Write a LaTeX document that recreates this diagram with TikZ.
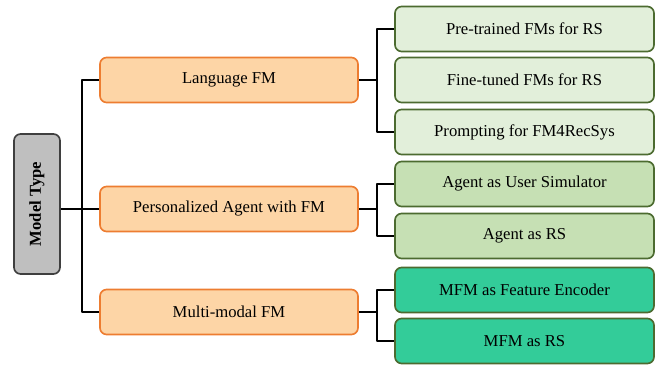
\documentclass[tikz,border=0pt]{standalone}
\usepackage{fontspec}
\setmainfont{Liberation Serif}
\definecolor{rootfill}{HTML}{BFBFBF}
\definecolor{rootline}{HTML}{3F3F3F}
\definecolor{catfill}{HTML}{FDD5A6}
\definecolor{catline}{HTML}{ED7D31}
\definecolor{leafline}{HTML}{4C6B30}
\definecolor{langfill}{HTML}{E2EFDA}
\definecolor{agentfill}{HTML}{C6E0B4}
\definecolor{mfmfill}{HTML}{33CC99}
\tikzset{
  box/.style={rounded corners=4pt, line width=1pt, align=center, inner sep=2pt},
  rootbox/.style={box, draw=rootline, fill=rootfill, rotate=90, minimum width=84pt, minimum height=27.6pt, font=\fontsize{10}{12}\selectfont\bfseries},
  catbox/.style={box, draw=catline, fill=catfill, minimum width=154.8pt, minimum height=27pt},
  leafbox/.style={box, draw=leafline, minimum width=155.4pt, minimum height=27pt},
  link/.style={line width=1.6pt}
}
\begin{document}
\begin{tikzpicture}[x=0.6pt, y=-0.6pt, line join=round, font=\fontsize{10}{12}\selectfont]
  \useasboundingbox (0,0) rectangle (659,367);
  \def\xcat{229} \def\xleaf{524.5} % column centres
  \coordinate (t0) at (82,0);
  \coordinate (t1) at (377,0);
  % root and categories
  \node[rootbox] (root) at (37,204) {Model Type};
  \node[catbox] (lang) at (\xcat,80) {Language FM};
  \node[catbox] (pa) at (\xcat,209) {Personalized Agent with FM};
  \node[catbox] (mm) at (\xcat,312) {Multi-modal FM};
  % leaves
  \foreach \n/\y/\c/\t in {l1/29/langfill/Pre-trained FMs for RS,
      l2/80/langfill/Fine-tuned FMs for RS,
      l3/132/langfill/Prompting for FM4RecSys,
      a1/184/agentfill/Agent as User Simulator,
      a2/236/agentfill/Agent as RS,
      m1/290/mfmfill/MFM as Feature Encoder,
      m2/341/mfmfill/MFM as RS}
    \node[leafbox, fill=\c] (\n) at (\xleaf,\y) {\t};
  % connectors
  \draw[link] (root.south |- pa.west) -- (pa.west);
  \draw[link] (lang.west) -| (mm.west -| t0) -- (mm.west);
  \foreach \c/\a/\b in {lang/l1/l3, pa/a1/a2, mm/m1/m2} {
    \draw[link] (\c.east) -- (\c.east -| t1);
    \draw[link] (\a.west) -| (\b.west -| t1) -- (\b.west);
  }
\end{tikzpicture}
\end{document}
